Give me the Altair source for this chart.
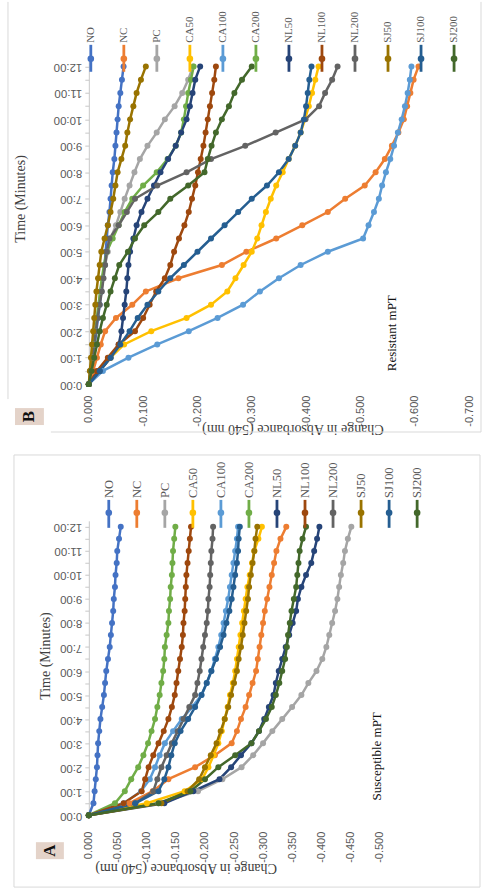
import altair as alt
import pandas as pd

series_names = ["NO", "NC", "PC", "CA50", "CA100", "CA200", "NL50", "NL100", "NL200", "SJ50", "SJ100", "SJ200"]
series_colors = ["#4472C4", "#ED7D31", "#A5A5A5", "#FFC000", "#5B9BD5", "#70AD47",
                 "#264478", "#9E480E", "#636363", "#997300", "#255E91", "#43682B"]

time_s = [0, 30, 60, 90, 120, 150, 180, 210, 240, 270, 300, 330, 360,
          390, 420, 450, 480, 510, 540, 570, 600, 630, 660, 690, 720]

# Panel A - Susceptible mPT
a_NO = [0, -0.008, -0.010, -0.012, -0.014, -0.015, -0.016, -0.018, -0.020, -0.023, -0.026, -0.028, -0.030, -0.033, -0.036, -0.038, -0.040, -0.042, -0.043, -0.045, -0.046, -0.048, -0.049, -0.052, -0.055]
a_NC = [0, -0.070, -0.110, -0.137, -0.183, -0.217, -0.246, -0.255, -0.262, -0.270, -0.276, -0.282, -0.288, -0.291, -0.294, -0.297, -0.300, -0.303, -0.307, -0.311, -0.315, -0.319, -0.323, -0.330, -0.340]
a_PC = [0, -0.120, -0.188, -0.230, -0.263, -0.283, -0.300, -0.316, -0.333, -0.350, -0.366, -0.378, -0.392, -0.402, -0.409, -0.414, -0.419, -0.424, -0.428, -0.431, -0.434, -0.438, -0.441, -0.446, -0.452]
a_CA50 = [0, -0.100, -0.165, -0.195, -0.206, -0.215, -0.223, -0.229, -0.234, -0.239, -0.243, -0.248, -0.252, -0.255, -0.258, -0.261, -0.264, -0.267, -0.270, -0.273, -0.277, -0.281, -0.285, -0.292, -0.298]
a_CA100 = [0, -0.060, -0.090, -0.105, -0.114, -0.122, -0.131, -0.145, -0.160, -0.178, -0.194, -0.203, -0.211, -0.217, -0.223, -0.228, -0.232, -0.236, -0.240, -0.243, -0.246, -0.249, -0.252, -0.255, -0.257]
a_CA200 = [0, -0.045, -0.062, -0.073, -0.085, -0.094, -0.102, -0.108, -0.114, -0.118, -0.122, -0.125, -0.128, -0.130, -0.131, -0.134, -0.137, -0.138, -0.140, -0.141, -0.143, -0.144, -0.145, -0.147, -0.149]
a_NL50 = [0, -0.130, -0.180, -0.225, -0.245, -0.262, -0.280, -0.293, -0.302, -0.310, -0.318, -0.322, -0.327, -0.333, -0.339, -0.345, -0.351, -0.357, -0.360, -0.366, -0.374, -0.383, -0.388, -0.393, -0.397]
a_NL100 = [0, -0.060, -0.091, -0.097, -0.103, -0.111, -0.120, -0.129, -0.137, -0.143, -0.148, -0.151, -0.154, -0.157, -0.160, -0.162, -0.163, -0.165, -0.166, -0.167, -0.168, -0.170, -0.172, -0.174, -0.176]
a_NL200 = [0, -0.080, -0.111, -0.118, -0.125, -0.134, -0.143, -0.153, -0.163, -0.173, -0.183, -0.187, -0.191, -0.194, -0.197, -0.200, -0.203, -0.205, -0.206, -0.208, -0.209, -0.210, -0.211, -0.213, -0.214]
a_SJ50 = [0, -0.125, -0.170, -0.190, -0.200, -0.210, -0.220, -0.227, -0.234, -0.240, -0.245, -0.250, -0.255, -0.258, -0.262, -0.265, -0.268, -0.271, -0.274, -0.276, -0.279, -0.282, -0.285, -0.287, -0.290]
a_SJ100 = [0, -0.080, -0.120, -0.130, -0.137, -0.142, -0.148, -0.158, -0.171, -0.183, -0.194, -0.203, -0.211, -0.219, -0.226, -0.232, -0.237, -0.242, -0.246, -0.249, -0.252, -0.255, -0.257, -0.258, -0.260]
a_SJ200 = [0, -0.120, -0.175, -0.200, -0.223, -0.252, -0.280, -0.293, -0.305, -0.315, -0.322, -0.328, -0.333, -0.338, -0.341, -0.343, -0.346, -0.349, -0.353, -0.357, -0.359, -0.361, -0.363, -0.368, -0.374]

# Panel B - Resistant mPT
b_NO = [0, -0.004, -0.008, -0.011, -0.014, -0.017, -0.020, -0.023, -0.026, -0.029, -0.031, -0.033, -0.035, -0.038, -0.040, -0.042, -0.044, -0.047, -0.049, -0.051, -0.053, -0.055, -0.058, -0.061, -0.064]
b_NC = [0, -0.008, -0.015, -0.022, -0.030, -0.050, -0.080, -0.105, -0.165, -0.245, -0.290, -0.345, -0.393, -0.440, -0.472, -0.508, -0.528, -0.545, -0.558, -0.570, -0.580, -0.586, -0.592, -0.598, -0.607]
b_PC = [0, -0.003, -0.006, -0.009, -0.012, -0.015, -0.018, -0.021, -0.025, -0.030, -0.035, -0.040, -0.050, -0.058, -0.066, -0.075, -0.084, -0.094, -0.108, -0.125, -0.140, -0.158, -0.172, -0.183, -0.192]
b_CA50 = [0, -0.020, -0.040, -0.065, -0.115, -0.180, -0.225, -0.255, -0.270, -0.285, -0.300, -0.310, -0.318, -0.326, -0.335, -0.345, -0.357, -0.368, -0.380, -0.390, -0.398, -0.405, -0.411, -0.417, -0.423]
b_CA100 = [0, -0.026, -0.073, -0.126, -0.184, -0.237, -0.284, -0.315, -0.350, -0.390, -0.440, -0.505, -0.515, -0.525, -0.534, -0.540, -0.547, -0.555, -0.562, -0.569, -0.576, -0.582, -0.587, -0.591, -0.594]
b_CA200 = [0, -0.003, -0.006, -0.009, -0.012, -0.015, -0.018, -0.021, -0.024, -0.028, -0.033, -0.044, -0.055, -0.066, -0.080, -0.100, -0.125, -0.145, -0.160, -0.170, -0.175, -0.179, -0.183, -0.188, -0.193]
b_NL50 = [0, -0.020, -0.040, -0.055, -0.060, -0.063, -0.066, -0.069, -0.071, -0.073, -0.076, -0.082, -0.088, -0.097, -0.108, -0.120, -0.132, -0.146, -0.160, -0.170, -0.180, -0.186, -0.191, -0.196, -0.205]
b_NL100 = [0, -0.015, -0.035, -0.055, -0.085, -0.100, -0.112, -0.124, -0.140, -0.150, -0.157, -0.166, -0.176, -0.184, -0.190, -0.196, -0.201, -0.206, -0.211, -0.215, -0.219, -0.223, -0.227, -0.231, -0.234]
b_NL200 = [0, -0.003, -0.006, -0.010, -0.013, -0.016, -0.020, -0.024, -0.027, -0.030, -0.033, -0.038, -0.055, -0.070, -0.085, -0.126, -0.180, -0.225, -0.288, -0.344, -0.399, -0.424, -0.435, -0.448, -0.458]
b_SJ50 = [0, -0.002, -0.004, -0.006, -0.008, -0.010, -0.012, -0.014, -0.017, -0.020, -0.023, -0.029, -0.035, -0.040, -0.045, -0.049, -0.053, -0.060, -0.067, -0.071, -0.076, -0.082, -0.088, -0.096, -0.105]
b_SJ100 = [0, -0.020, -0.040, -0.058, -0.075, -0.090, -0.108, -0.128, -0.150, -0.175, -0.200, -0.225, -0.250, -0.275, -0.300, -0.328, -0.350, -0.368, -0.380, -0.390, -0.396, -0.400, -0.403, -0.406, -0.410]
b_SJ200 = [0, -0.005, -0.010, -0.015, -0.020, -0.026, -0.033, -0.040, -0.048, -0.056, -0.072, -0.085, -0.102, -0.128, -0.150, -0.183, -0.213, -0.219, -0.226, -0.234, -0.245, -0.258, -0.268, -0.282, -0.300]

a_ticks = [0, -0.05, -0.1, -0.15, -0.2, -0.25, -0.3, -0.35, -0.4, -0.45, -0.5]
b_ticks = [0, -0.1, -0.2, -0.3, -0.4, -0.5, -0.6, -0.7]
time_ticks = time_s
panel_a_series = [a_NO, a_NC, a_PC, a_CA50, a_CA100, a_CA200, a_NL50, a_NL100, a_NL200, a_SJ50, a_SJ100, a_SJ200]
panel_b_series = [b_NO, b_NC, b_PC, b_CA50, b_CA100, b_CA200, b_NL50, b_NL100, b_NL200, b_SJ50, b_SJ100, b_SJ200]

SERIF = "Liberation Serif"
SANS = "Liberation Sans"


def long_df(series_values):
    rows = []
    for name, vals in zip(series_names, series_values):
        for t, v in zip(time_s, vals):
            rows.append({"series": name, "t": t, "v": v})
    return pd.DataFrame(rows)


def panel(series_values, ticks, xmin, width, height, cfg):
    df = long_df(series_values)
    color = alt.Color("series:N", scale=alt.Scale(domain=series_names, range=series_colors), legend=None)
    x = alt.X("v:Q",
              scale=alt.Scale(domain=[xmin, 0], reverse=True, nice=False, zero=False),
              axis=alt.Axis(values=ticks,
                            labelExpr="datum.value == 0 ? '0.000' : '-' + format(abs(datum.value), '.3f')",
                            labelAngle=270, labelAlign="right", labelBaseline="middle",
                            labelFlush=False, labelOverlap=False,
                            domain=False, ticks=False, grid=False,
                            labelPadding=cfg["xlabpad"], labelFont=SANS, labelFontSize=cfg["xlabfs"],
                            labelColor="#595959",
                            title="Change in Absorbance (540 nm)", titleAngle=180,
                            titleX=cfg["xtitle_x"], titleY=cfg["xtitle_y"],
                            titleAlign="center", titleBaseline="middle",
                            titleFont=SERIF, titleFontSize=14, titleFontWeight="normal",
                            titleColor="#404040"))
    y = alt.Y("t:Q",
              scale=alt.Scale(domain=[0, 735], nice=False, zero=True),
              axis=alt.Axis(values=time_ticks,
                            labelExpr="datum.value % 60 == 0 ? floor(datum.value / 60) + ':00' : ''",
                            labelAngle=180, labelAlign="left", labelBaseline="middle",
                            labelFlush=False, labelOverlap=False,
                            tickSize=4, tickColor="#c8c8c8", domainColor="#c8c8c8", grid=False,
                            labelPadding=3, labelFont=SANS, labelFontSize=cfg["ylabfs"],
                            labelColor="#595959",
                            title="Time (Minutes)", titleAngle=270,
                            titleX=cfg["ytitle_x"], titleY=cfg["ytitle_y"],
                            titleAlign="center", titleBaseline="middle",
                            titleFont=SERIF, titleFontSize=14, titleFontWeight="normal",
                            titleColor="#404040"))
    lines = alt.Chart(df).mark_line(strokeWidth=2.5).encode(x=x, y=y, color=color, detail="series:N")
    points = alt.Chart(df).mark_circle(size=36, opacity=1).encode(x=x, y=y, color=color, detail="series:N")
    plot = alt.layer(lines, points)

    # custom legend (rotated)
    leg_df = pd.DataFrame({"series": series_names, "idx": list(range(len(series_names)))})
    lx = alt.X("idx:Q", scale=alt.Scale(domain=[0, 11], range=[cfg["leg_x0"], cfg["leg_x1"]], nice=False, zero=False), axis=None)
    leg_base = alt.Chart(leg_df)
    leg_rule = leg_base.mark_rule(strokeWidth=2.8).encode(
        x=lx, y=alt.value(cfg["leg_y0"]), y2=alt.value(cfg["leg_y1"]), color=color)
    leg_pt = leg_base.mark_circle(size=44, opacity=1).encode(x=lx, y=alt.value(cfg["leg_ym"]), color=color)
    leg_txt = leg_base.mark_text(angle=270, align="left", baseline="middle", font=SERIF,
                                 fontSize=cfg["legfs"], color="#595959").encode(
        x=lx, y=alt.value(cfg["leg_y0"] - 2), text="series:N")
    legend = alt.layer(leg_rule, leg_pt, leg_txt)

    one = pd.DataFrame({"k": [0]})
    deco = []
    for fr in cfg["frame"]:
        deco.append(alt.Chart(one).mark_rule(color="#d9d9d9", strokeWidth=1).encode(
            x=alt.value(fr[0]), x2=alt.value(fr[1]), y=alt.value(fr[2]), y2=alt.value(fr[3])))
    bx = cfg["box"]
    deco.append(alt.Chart(one).mark_rect(color="#E4D3C9").encode(
        x=alt.value(bx[0]), x2=alt.value(bx[1]), y=alt.value(bx[2]), y2=alt.value(bx[3])))
    deco.append(alt.Chart(one).mark_text(angle=270, align="center", baseline="middle", font=SERIF,
                                         fontSize=17, fontWeight="bold", color="#111111").encode(
        x=alt.value((bx[0] + bx[1]) / 2), y=alt.value((bx[2] + bx[3]) / 2), text=alt.value(cfg["letter"])))
    deco.append(alt.Chart(one).mark_text(angle=270, align="center", baseline="middle", font=SERIF,
                                         fontSize=13, color="#111111").encode(
        x=alt.value(cfg["note_x"]), y=alt.value(cfg["note_y"]), text=alt.value(cfg["note"])))

    return alt.layer(*deco, plot, legend).resolve_scale(x="independent").properties(width=width, height=height)


cfg_b = dict(xlabpad=11, xlabfs=11, ylabfs=11.5, xtitle_x=204, xtitle_y=44, ytitle_x=-68, ytitle_y=139,
             leg_x0=2, leg_x1=366, leg_y0=-15, leg_y1=12, leg_ym=-1, legfs=11,
             frame=[(-81, -81, -58, 340), (-38, 393, 373, 373), (393, 393, -58, 373)],
             box=(-74, -45, 349, 366), letter="B", note="Resistant mPT", note_x=304, note_y=274)
cfg_a = dict(xlabpad=16, xlabfs=11, ylabfs=11.5, xtitle_x=97, xtitle_y=52, ytitle_x=-43, ytitle_y=135,
             leg_x0=20, leg_x1=329, leg_y0=-21, leg_y1=7, leg_ym=-8, legfs=12.5,
             frame=[(-75, -75, -66, 367), (-75, 392, -66, -66), (392, 392, -66, 367), (-75, 392, 367, 367)],
             box=(-53, -25, 322, 339), letter="A", note="Susceptible mPT", note_x=289, note_y=236)

panel_b = panel(panel_b_series, b_ticks, -0.7, 381, 325, cfg_b)
panel_a = panel(panel_a_series, a_ticks, -0.5, 291, 295, cfg_a)

chart = alt.vconcat(panel_b, panel_a, spacing=19).properties(
    padding={"left": 7, "top": 0, "right": 0, "bottom": 2}, background="white"
).configure_view(stroke=None)

chart.save("out.html", embed_options={"renderer": "svg", "actions": False})
